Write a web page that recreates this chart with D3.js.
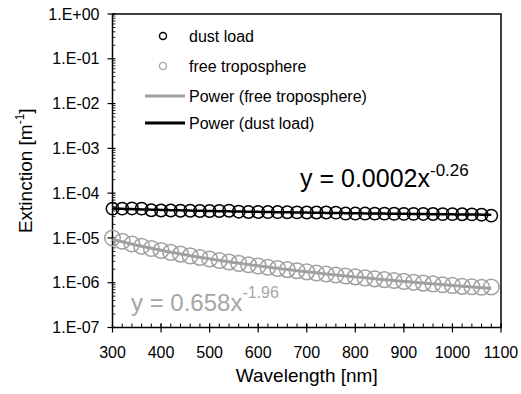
<!DOCTYPE html>
<html><head><meta charset="utf-8">
<script src="https://cdn.jsdelivr.net/npm/d3@7/dist/d3.min.js"></script>
<style>
html,body{margin:0;padding:0;background:#fff;}
text{font-family:"Liberation Sans",Arial,sans-serif;}
</style></head>
<body><svg id="c" width="521" height="394"></svg>
<script>
// ---- data ----
const wavelengths = [300,320,340,360,380,400,420,440,460,480,500,520,540,560,580,600,620,640,660,680,
                     700,720,740,760,780,800,820,840,860,880,900,920,940,960,980,1000,1020,1040,1060,1080];
const dustLoad = [4.5e-5,4.5e-5,4.55e-5,4.5e-5,4.15e-5,4.1e-5,4.1e-5,4.05e-5,4.05e-5,4.0e-5,
                  4.0e-5,4.0e-5,4.05e-5,3.85e-5,3.8e-5,3.8e-5,3.78e-5,3.78e-5,3.75e-5,3.72e-5,
                  3.7e-5,3.7e-5,3.7e-5,3.68e-5,3.5e-5,3.5e-5,3.5e-5,3.48e-5,3.48e-5,3.46e-5,
                  3.45e-5,3.44e-5,3.43e-5,3.42e-5,3.4e-5,3.4e-5,3.38e-5,3.36e-5,3.3e-5,3.15e-5];
const freeTrop = [1.0e-5,8.4e-6,7.3e-6,6.5e-6,5.8e-6,5.25e-6,4.75e-6,4.35e-6,3.97e-6,3.66e-6,
                  3.38e-6,3.13e-6,2.9e-6,2.7e-6,2.52e-6,2.36e-6,2.21e-6,2.08e-6,1.96e-6,1.85e-6,
                  1.75e-6,1.65e-6,1.57e-6,1.49e-6,1.41e-6,1.35e-6,1.28e-6,1.22e-6,1.17e-6,1.12e-6,
                  1.07e-6,1.02e-6,9.8e-7,9.4e-7,9.0e-7,8.7e-7,8.3e-7,8.1e-7,7.9e-7,8.0e-7];
const xTicks = [300,400,500,600,700,800,900,1000,1100];
const yTicks = [1e-7,1e-6,1e-5,1e-4,1e-3,1e-2,1e-1,1];
const yTickLabels = ["1.E-07","1.E-06","1.E-05","1.E-04","1.E-03","1.E-02","1.E-01","1.E+00"];
const seriesNames = ["dust load","free troposphere","Power (free troposphere)","Power (dust load)"];
const eqDust = {base:"y = 0.0002x", exp:"-0.26"};
const eqFree = {base:"y = 0.658x", exp:"-1.96"};

// ---- layout ----
const L=112.5, R=501, T=14, B=327.5;
const black="#000", grey="#a0a0a0";
const svg=d3.select("#c");
const x=d3.scaleLinear().domain([300,1100]).range([L,R]);
const y=d3.scaleLog().domain([1e-7,1]).range([B,T]);

// plot box
svg.append("rect").attr("x",L).attr("y",T).attr("width",R-L).attr("height",B-T)
  .attr("fill","none").attr("stroke",black).attr("stroke-width",1.5);

// x minor ticks (inside)
const xMinor=d3.range(300,1100.1,20);
svg.append("g").selectAll("line").data(xMinor).join("line")
  .attr("x1",d=>x(d)).attr("x2",d=>x(d)).attr("y1",B).attr("y2",B-4)
  .attr("stroke",black).attr("stroke-width",1);
// x major ticks
svg.append("g").selectAll("line").data(xTicks).join("line")
  .attr("x1",d=>x(d)).attr("x2",d=>x(d)).attr("y1",B+5).attr("y2",B-4)
  .attr("stroke",black).attr("stroke-width",1.2);
svg.append("g").selectAll("text").data(xTicks).join("text")
  .attr("x",d=>x(d)).attr("y",B+30).attr("text-anchor","middle")
  .attr("font-size",16).attr("fill",black).text(d=>d);

// y minor ticks
const yMinor=[];
for(let e=-7;e<0;e++) for(let m=2;m<10;m++) yMinor.push(m*Math.pow(10,e));
svg.append("g").selectAll("line").data(yMinor).join("line")
  .attr("x1",L).attr("x2",L+3).attr("y1",d=>y(d)).attr("y2",d=>y(d))
  .attr("stroke",black).attr("stroke-width",0.8);
svg.append("g").selectAll("line").data(yTicks).join("line")
  .attr("x1",L-5).attr("x2",L+3).attr("y1",d=>y(d)).attr("y2",d=>y(d))
  .attr("stroke",black).attr("stroke-width",1.2);
svg.append("g").selectAll("text").data(yTicks).join("text")
  .attr("x",L-13).attr("y",d=>y(d)).attr("dy","0.35em").attr("text-anchor","end")
  .attr("font-size",16).attr("fill",black).text((d,i)=>yTickLabels[i]);

// axis titles
svg.append("text").attr("x",(L+R)/2).attr("y",B+54).attr("text-anchor","middle")
  .attr("font-size",19).attr("fill",black).text("Wavelength [nm]");
const yt=svg.append("text").attr("transform",`translate(32,${(T+B)/2}) rotate(-90)`)
  .attr("text-anchor","middle").attr("font-size",19).attr("fill",black);
yt.append("tspan").text("Extinction [m");
yt.append("tspan").attr("font-size",12).attr("dy",-8).text("-1");
yt.append("tspan").attr("dy",8).text("]");

// power fit from data (least squares in log-log space)
function powerFit(xs,ys){
  const lx=xs.map(Math.log), ly=ys.map(Math.log);
  const mx=d3.mean(lx), my=d3.mean(ly);
  const b=d3.sum(lx.map((v,i)=>(v-mx)*(ly[i]-my)))/d3.sum(lx.map(v=>(v-mx)*(v-mx)));
  const a=Math.exp(my-b*mx);
  return w=>a*Math.pow(w,b);
}
const fitDust=powerFit(wavelengths,dustLoad), fitFree=powerFit(wavelengths,freeTrop);
const wFine=d3.range(300,1080.1,5);
const line=d3.line().x(d=>x(d[0])).y(d=>y(d[1]));

// markers
const g=svg.append("g");
g.selectAll("circle.f").data(wavelengths).join("circle").attr("class","f")
  .attr("cx",d=>x(d)).attr("cy",(d,i)=>y(freeTrop[i])).attr("r",7.8)
  .attr("fill","none").attr("stroke",grey).attr("stroke-width",1.5);
g.selectAll("circle.d").data(wavelengths).join("circle").attr("class","d")
  .attr("cx",d=>x(d)).attr("cy",(d,i)=>y(dustLoad[i])).attr("r",6.2)
  .attr("fill","none").attr("stroke",black).attr("stroke-width",1.5);
// trendlines
svg.append("path").datum(wFine.map(w=>[w,fitFree(w)])).attr("d",line)
  .attr("fill","none").attr("stroke",grey).attr("stroke-width",3);
svg.append("path").datum(wFine.map(w=>[w,fitDust(w)])).attr("d",line)
  .attr("fill","none").attr("stroke",black).attr("stroke-width",2.5);

// equations
const e1=svg.append("text").attr("x",300).attr("y",187).attr("font-size",25).attr("fill",black);
e1.append("tspan").text(eqDust.base);
e1.append("tspan").attr("font-size",17).attr("dy",-11).text(eqDust.exp);
const e2=svg.append("text").attr("x",131).attr("y",311).attr("font-size",24).attr("fill","#a6a6a6");
e2.append("tspan").text(eqFree.base);
e2.append("tspan").attr("font-size",16).attr("dy",-13).text(eqFree.exp);

// legend
const lg=svg.append("g");
const ly0=[36,66,96,123];
lg.append("circle").attr("cx",163).attr("cy",ly0[0]).attr("r",3.5).attr("fill","none").attr("stroke",black).attr("stroke-width",1.5);
lg.append("circle").attr("cx",163).attr("cy",ly0[1]).attr("r",3.5).attr("fill","none").attr("stroke",grey).attr("stroke-width",1.2);
lg.append("line").attr("x1",145).attr("x2",185).attr("y1",ly0[2]).attr("y2",ly0[2]).attr("stroke",grey).attr("stroke-width",3);
lg.append("line").attr("x1",145).attr("x2",185).attr("y1",ly0[3]).attr("y2",ly0[3]).attr("stroke",black).attr("stroke-width",3);
lg.selectAll("text").data(seriesNames).join("text")
  .attr("x",189).attr("y",(d,i)=>ly0[i]).attr("dy","0.35em").attr("font-size",16).attr("fill",black).text(d=>d);
</script></body></html>
